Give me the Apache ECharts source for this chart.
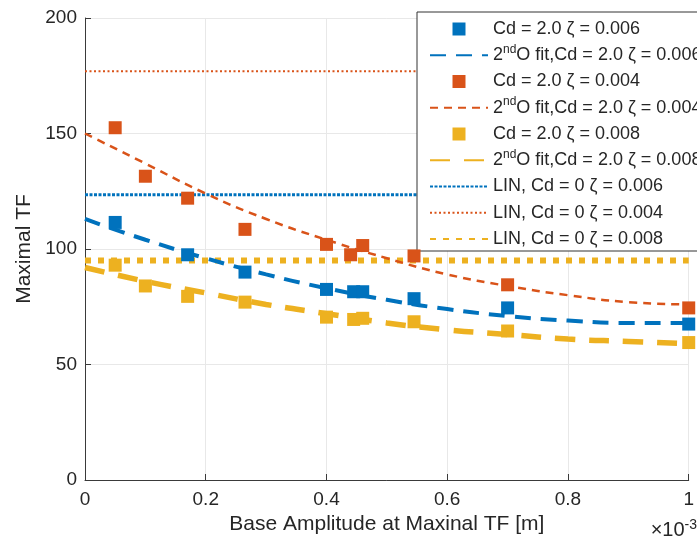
<!DOCTYPE html>
<html>
<head>
<meta charset="utf-8">
<script src="https://cdn.jsdelivr.net/npm/echarts@6/dist/echarts.min.js"></script>
<style>
  html, body { margin: 0; padding: 0; background: #fff; }
  #chart { width: 697px; height: 544px; }
</style>
</head>
<body>
<div id="chart"></div>
<script>
// base amplitude in units of 1e-3 m
var xBlue = [0.05, 0.17, 0.265, 0.40, 0.445, 0.46, 0.545, 0.70, 1.0];
var yBlue = [111.5, 97.5, 90, 82.5, 81.5, 81.5, 78.5, 74.5, 67.5];

var xOrange = [0.05, 0.10, 0.17, 0.265, 0.40, 0.44, 0.46, 0.545, 0.70, 1.0];
var yOrange = [152.5, 131.5, 122, 108.5, 102, 97.5, 101.5, 97, 84.5, 74.5];

var xYellow = [0.05, 0.10, 0.17, 0.265, 0.40, 0.445, 0.46, 0.545, 0.70, 1.0];
var yYellow = [93, 84, 79.5, 77, 70.5, 69.5, 70, 68.5, 64.5, 59.5];

// 2nd order fit curves
var xFit = [0, 0.1, 0.2, 0.3, 0.4, 0.5, 0.6, 0.7, 0.8, 0.9, 1.0];
var fitBlue = [113, 104, 96, 89, 83, 78, 74, 71, 69, 68, 68];
var fitOrange = [150, 137, 124, 113, 104, 96, 89, 84, 80, 77, 76];
var fitYellow = [92, 86, 81, 76, 72, 68, 65, 63, 61, 60, 59];

// linear (Cd = 0) levels
var linX = [0, 1];
var linBlue = 123.5;
var linOrange = 177;
var linYellow = 95;

var names = [
    'Cd = 2.0 ζ = 0.006',
    '2ndO fit,Cd = 2.0 ζ = 0.006',
    'Cd = 2.0 ζ = 0.004',
    '2ndO fit,Cd = 2.0 ζ = 0.004',
    'Cd = 2.0 ζ = 0.008',
    '2ndO fit,Cd = 2.0 ζ = 0.008',
    'LIN, Cd = 0 ζ = 0.006',
    'LIN, Cd = 0 ζ = 0.004',
    'LIN, Cd = 0 ζ = 0.008'
];

var BLUE = '#0072BD', ORANGE = '#D95319', YELLOW = '#EDB120';
var FONT = 'Liberation Sans, Arial, sans-serif';
var SQUARE = 'path://M0,0h10v10h-10z';

function pairs(xs, ys) {
    return xs.map(function (x, i) { return [x, ys[i]]; });
}
function flat(v) {
    return linX.map(function (x) { return [x, v]; });
}

// scatter entries get a square icon, line entries only their line
var legendData = names.map(function (n, i) {
    var isScatter = (i < 6 && i % 2 === 0);
    if (isScatter) {
        return { name: n, icon: SQUARE, symbolKeepAspect: true };
    }
    return { name: n, itemStyle: { opacity: 0 } };
});

var chartDom = document.getElementById('chart');
var myChart = echarts.init(chartDom);
var option;

option = {
    animation: false,
    backgroundColor: '#fff',
    grid: { left: 85, right: 2, top: 18, bottom: 64 },
    xAxis: {
        type: 'value',
        min: 0,
        max: 1,
        interval: 0.2,
        name: 'Base Amplitude at Maxinal TF [m]',
        nameLocation: 'middle',
        nameGap: 34,
        nameTextStyle: { fontFamily: FONT, fontSize: 21, color: '#262626' },
        axisLine: { lineStyle: { color: '#3a3a3a', width: 1 } },
        axisTick: { inside: true, length: 6, lineStyle: { color: '#3a3a3a' } },
        axisLabel: { fontFamily: FONT, fontSize: 19, color: '#262626', margin: 10 },
        splitLine: { show: true, lineStyle: { color: '#e8e8e8' } }
    },
    yAxis: {
        type: 'value',
        min: 0,
        max: 200,
        interval: 50,
        name: 'Maximal TF',
        nameLocation: 'middle',
        nameGap: 49,
        nameTextStyle: { fontFamily: FONT, fontSize: 21, color: '#262626' },
        axisLine: { show: true, lineStyle: { color: '#3a3a3a', width: 1 } },
        axisTick: { show: true, inside: true, length: 6, lineStyle: { color: '#3a3a3a' } },
        axisLabel: { fontFamily: FONT, fontSize: 19, color: '#262626', margin: 8 },
        splitLine: { show: true, lineStyle: { color: '#e8e8e8' } }
    },
    legend: {
        orient: 'vertical',
        left: 417,
        top: 12,
        data: legendData,
        itemWidth: 58,
        itemHeight: 13,
        itemGap: 2.25,
        padding: [5, 8, 0, 12],
        backgroundColor: '#fff',
        borderColor: '#333',
        borderWidth: 1,
        borderRadius: 0,
        textStyle: {
            fontFamily: FONT, fontSize: 18, color: '#262626', lineHeight: 24,
            rich: { sup: { fontFamily: FONT, fontSize: 12, color: '#262626', verticalAlign: 'top', lineHeight: 14 } }
        },
        formatter: function (name) {
            if (name.indexOf('2ndO') === 0) {
                return '2{sup|nd}' + name.slice(3);
            }
            return name;
        }
    },
    graphic: [{
        type: 'text',
        right: 0,
        top: 518,
        style: {
            text: '×10{s|-3}',
            fontFamily: FONT,
            fontSize: 20,
            fill: '#262626',
            rich: { s: { fontFamily: FONT, fontSize: 14, fill: '#262626', verticalAlign: 'top', padding: [0, 0, 10, 0] } }
        }
    }],
    series: [
        {
            name: names[0], type: 'scatter', symbol: 'rect', symbolSize: 13,
            itemStyle: { color: BLUE, opacity: 1 }, data: pairs(xBlue, yBlue), z: 5
        },
        {
            name: names[1], type: 'line', symbol: 'none', smooth: true,
            lineStyle: { color: BLUE, width: 4, type: [16, 10] },
            itemStyle: { color: BLUE }, data: pairs(xFit, fitBlue), z: 3
        },
        {
            name: names[2], type: 'scatter', symbol: 'rect', symbolSize: 13,
            itemStyle: { color: ORANGE, opacity: 1 }, data: pairs(xOrange, yOrange), z: 5
        },
        {
            name: names[3], type: 'line', symbol: 'none', smooth: true,
            lineStyle: { color: ORANGE, width: 2.5, type: [8, 6] },
            itemStyle: { color: ORANGE }, data: pairs(xFit, fitOrange), z: 3
        },
        {
            name: names[4], type: 'scatter', symbol: 'rect', symbolSize: 13,
            itemStyle: { color: YELLOW, opacity: 1 }, data: pairs(xYellow, yYellow), z: 5
        },
        {
            name: names[5], type: 'line', symbol: 'none', smooth: true,
            lineStyle: { color: YELLOW, width: 5.5, type: [20, 14] },
            itemStyle: { color: YELLOW }, data: pairs(xFit, fitYellow), z: 3
        },
        {
            name: names[6], type: 'line', symbol: 'none',
            lineStyle: { color: BLUE, width: 3, type: [3, 1.5] },
            itemStyle: { color: BLUE }, data: flat(linBlue), z: 2
        },
        {
            name: names[7], type: 'line', symbol: 'none',
            lineStyle: { color: ORANGE, width: 2, type: [2, 2.5] },
            itemStyle: { color: ORANGE }, data: flat(linOrange), z: 2
        },
        {
            name: names[8], type: 'line', symbol: 'none',
            lineStyle: { color: YELLOW, width: 6, type: [6, 7] },
            itemStyle: { color: YELLOW }, data: flat(linYellow), z: 2
        }
    ]
};

option && myChart.setOption(option);
</script>
</body>
</html>
